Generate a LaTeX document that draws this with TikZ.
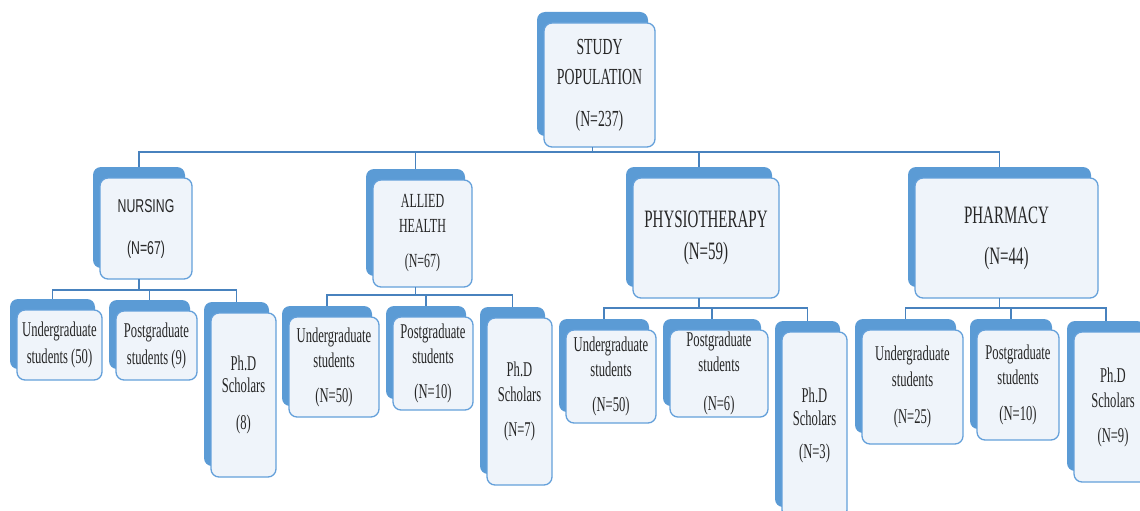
\documentclass[tikz,border=0pt]{standalone}
\usepackage{fontspec}
\newfontfamily\narrowserif[FakeStretch=0.6]{Liberation Serif}
\newfontfamily\narrowsans[FakeStretch=0.66]{Liberation Sans}
\usetikzlibrary{positioning,shadows}
\definecolor{backblue}{RGB}{91,155,213}
\definecolor{edgeblue}{RGB}{100,160,218}
\definecolor{frontfill}{RGB}{239,244,250}
\definecolor{linkblue}{RGB}{72,130,190}

\begin{document}
\begin{tikzpicture}[
  x=1pt, y=-1pt,
  box/.style={draw=edgeblue, line width=1.3pt, fill=frontfill, rounded corners=8pt, align=center, inner sep=2pt, outer sep=0pt,
    text=black!85, copy shadow={shadow xshift=-7pt, shadow yshift=11pt, fill=backblue, draw=none}},
  top/.style={box, font=\narrowserif\fontsize{23}{27.6}\selectfont},
  dept/.style={box, font=\narrowserif\fontsize{25}{30}\selectfont},
  grp/.style={box, font=\narrowserif\fontsize{21}{25.2}\selectfont},
  link/.style={draw=linkblue, line width=1.3pt}
]
\path[use as bounding box] (0,0) rectangle (1140,511);
\clip (0,0) rectangle (1140,511);

\node[top, minimum width=111pt, minimum height=124pt] (study) at (599.5,85) {STUDY\\[2.4pt]POPULATION\\[14.4pt](N=237)};

% departments
\node[box, font=\narrowsans\fontsize{18.6}{22.3}\selectfont, minimum width=92pt, minimum height=101pt, below=31pt of study, xshift=-453.5pt] (nurse) {NURSING\\[19.7pt](N=67)};
\node[dept, font=\narrowserif\fontsize{20}{24}\selectfont, minimum width=99pt, minimum height=107pt, below=33pt of study, xshift=-177pt] (allied) {ALLIED\\[1pt]HEALTH\\[11pt](N=67)};
\node[dept, minimum width=146pt, minimum height=120pt, below=31pt of study, xshift=106.5pt] (physio) {PHYSIOTHERAPY\\[2pt](N=59)};
\node[dept, minimum width=183pt, minimum height=120pt, below=31pt of study, xshift=407pt] (pharm) {PHARMACY\\[11pt](N=44)};

% nursing groups
\node[grp, minimum width=85pt, minimum height=70pt, below=31pt of nurse, xshift=-86.5pt] (nurseU) {Undergraduate\\[1.8pt]students (50)};
\node[grp, minimum width=81pt, minimum height=69pt, below=32pt of nurse, xshift=10.5pt] (nurseP) {Postgraduate\\[1.8pt]students (9)};
\node[grp, minimum width=65pt, minimum height=164pt, below=34pt of nurse, xshift=97.5pt] (nurseD) {Ph.D\\[-3.2pt]Scholars\\[11.8pt](8)};

% allied health groups
\node[grp, minimum width=90pt, minimum height=100pt, below=30pt of allied, xshift=-88.5pt] (alliedU) {Undergraduate\\[-0.2pt]students\\[9.8pt](N=50)};
\node[grp, minimum width=80pt, minimum height=93pt, below=30pt of allied, xshift=10.5pt] (alliedP) {Postgraduate\\[-0.2pt]students\\[9.8pt](N=10)};
\node[grp, minimum width=65pt, minimum height=167pt, below=31pt of allied, xshift=97pt] (alliedD) {Ph.D\\[-0.2pt]Scholars\\[9.8pt](N=7)};

% physiotherapy groups
\node[grp, minimum width=90pt, minimum height=93pt, below=32pt of physio, xshift=-95pt] (physioU) {Undergraduate\\[-0.2pt]students\\[9.8pt](N=50)};
\node[grp, minimum width=98pt, minimum height=85pt, below=32pt of physio, xshift=13pt] (physioP) {Postgraduate\\[-0.2pt]students\\[13.8pt](N=6)};
\node[grp, minimum width=65pt, minimum height=186pt, below=34pt of physio, xshift=108.5pt] (physioD) {Ph.D\\[-2.2pt]Scholars\\[7.8pt](N=3)};

% pharmacy groups
\node[grp, minimum width=101pt, minimum height=114pt, below=32pt of pharm, xshift=-94pt] (pharmU) {Undergraduate\\[0.8pt]students\\[11.8pt](N=25)};
\node[grp, minimum width=82pt, minimum height=110pt, below=32pt of pharm, xshift=11.5pt] (pharmP) {Postgraduate\\[-0.2pt]students\\[10.8pt](N=10)};
\node[grp, minimum width=78pt, minimum height=150pt, below=34pt of pharm, xshift=106.5pt] (pharmD) {Ph.D\\[-0.2pt]Scholars\\[9.8pt](N=9)};

\foreach \d in {nurse,allied,physio,pharm}
  \draw[link] ([xshift=-7pt]study.south) -- ++(0,5) -| ([xshift=-7pt,yshift=11pt]\d.north);
\foreach \p/\k in {nurse/11,allied/8,physio/10,pharm/10}
  \foreach \c in {U,P,D}
    \draw[link] ([xshift=-7pt]\p.south) -- ++(0,\k) -| ([xshift=-7pt,yshift=11pt]\p\c.north);
\end{tikzpicture}
\end{document}
